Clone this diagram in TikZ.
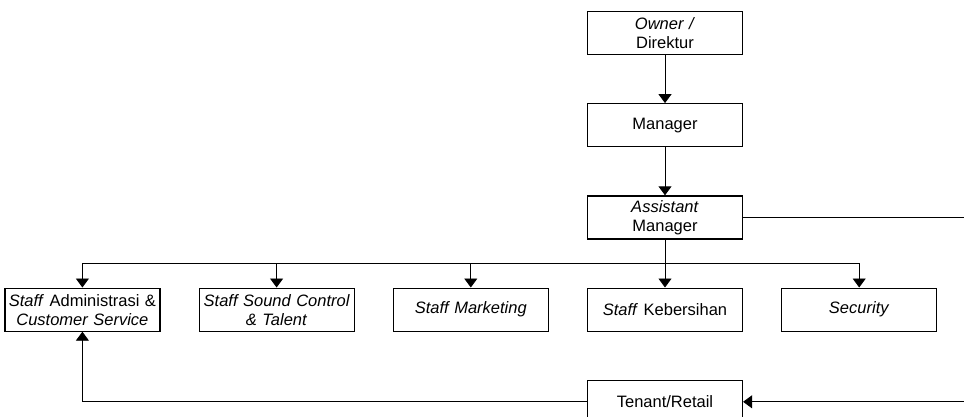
\documentclass[tikz,border=0pt]{standalone}
\usepackage{fontspec}
\setmainfont{Liberation Sans}
\usepackage{xcolor}
\usepackage{tikz}
\usetikzlibrary{arrows.meta,positioning,calc}
\definecolor{orgblack}{HTML}{000000}
\tikzset{
    orgbox/.style={rectangle, draw=orgblack, line width=1.2pt,
        text width=150pt, inner xsep=2.5pt, inner ysep=2pt,
        align=center, minimum height=43pt,
        font=\fontsize{16.5}{19}\selectfont},
    orgarrow/.style={-{Triangle[width=13pt,length=9pt]}, line width=0.9pt, color=orgblack},
    orgline/.style={line width=0.9pt, color=orgblack},
}

\begin{document}
\begin{tikzpicture}[node distance=48pt and 38pt]

    \useasboundingbox (0,0) rectangle (964pt,-416pt);

    % ── Top of the chart ──────────────────────────────────────────────────
    \node[orgbox] (owner) at (665pt,-33pt)
        {\textit{Owner /}\\Direktur};
    \node[orgbox, below=of owner] (manager)
        {Manager};
    \node[orgbox, below=of manager] (asst)
        {\textit{Assistant}\\Manager};

    % ── Staff row ─────────────────────────────────────────────────────────
    \node[orgbox, below=of asst] (kebersihan)
        {\textit{Staff} Kebersihan};
    \node[orgbox, left=of kebersihan] (marketing)
        {\textit{Staff Marketing}};
    \node[orgbox, left=of marketing] (sound)
        {\textit{Staff Sound Control\\ \& Talent}};
    \node[orgbox, left=of sound] (admin)
        {\textit{Staff} Administrasi \&\\\textit{Customer Service}};
    \node[orgbox, right=of kebersihan] (security)
        {\textit{Security}};

    % ── Tenant ────────────────────────────────────────────────────────────
    \node[orgbox, below=of kebersihan] (tenant)
        {Tenant/Retail};

    % ── Free ends at the right edge ───────────────────────────────────────
    \coordinate (asst_out) at (964pt,0 |- asst.east);
    \coordinate (tenant_in) at (964pt,0 |- tenant.east);
    \coordinate (bus) at ($(asst.south)!0.5!(kebersihan.north)$);

    % ── Arrows ────────────────────────────────────────────────────────────
    \draw[orgarrow] (owner) -- (manager);
    \draw[orgarrow] (manager) -- (asst);
    \draw[orgarrow] (asst) -- (kebersihan);
    \draw[orgarrow] (bus) -| (admin.north);
    \draw[orgarrow] (bus) -| (sound.north);
    \draw[orgarrow] (bus) -| (marketing.north);
    \draw[orgarrow] (bus) -| (security.north);
    \draw[orgline]  (asst.east) -- (asst_out);
    \draw[orgarrow] (tenant_in) -- (tenant.east);
    \draw[orgarrow] (tenant.west) -| (admin.south);

\end{tikzpicture}
\end{document}
